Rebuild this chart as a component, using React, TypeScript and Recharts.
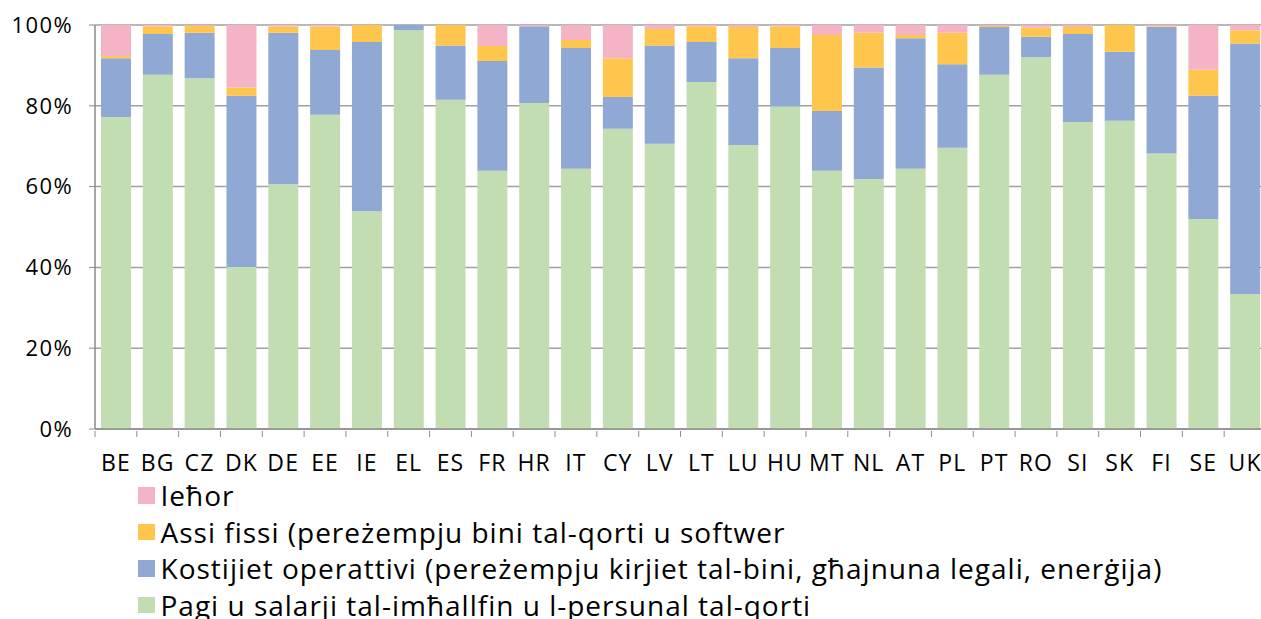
import React from "react";
import { BarChart, Bar, XAxis, YAxis, CartesianGrid } from "recharts";

const countries = ["BE","BG","CZ","DK","DE","EE","IE","EL","ES","FR","HR","IT","CY","LV","LT","LU","HU","MT","NL","AT","PL","PT","RO","SI","SK","FI","SE","UK"];
const salaries = [77.2,87.7,86.8,40.1,60.6,77.8,53.9,98.7,81.5,63.9,80.7,64.4,74.3,70.6,85.9,70.3,79.8,63.9,61.9,64.4,69.6,87.7,92.0,76.0,76.3,68.2,52.0,33.4];
const operating = [14.6,10.1,11.3,42.4,37.5,16.0,41.9,1.3,13.4,27.2,19.0,29.9,7.9,24.3,9.9,21.5,14.5,14.8,27.6,32.3,20.7,11.8,5.1,21.8,17.1,31.3,30.5,62.0];
const fixedAssets = [0.5,1.8,1.7,2.0,1.5,5.8,4.2,0,5.1,3.7,0,2.0,9.6,4.1,3.9,7.7,5.4,18.8,8.6,0.8,7.8,0.3,2.2,1.7,6.6,0.2,6.4,3.3];
const other = [7.7,0.4,0.2,15.5,0.4,0.4,0,0,0,5.2,0.3,3.7,8.2,1.0,0.3,0.5,0.3,2.5,1.9,2.5,1.9,0.2,0.7,0.5,0,0.3,11.1,1.3];
const yTicks = [0, 20, 40, 60, 80, 100];

const seriesNames = {
  other: "Ieħor",
  fixed: "Assi fissi (pereżempju bini tal-qorti u softwer",
  operating: "Kostijiet operattivi (pereżempju kirjiet tal-bini, għajnuna legali, enerġija)",
  salaries: "Pagi u salarji tal-imħallfin u l-persunal tal-qorti",
};
const colors = { other: "#F5B4C5", fixed: "#FFC64D", operating: "#8FA9D4", salaries: "#C3DDB3" };

const data = countries.map((c, i) => ({
  name: c,
  salaries: salaries[i],
  operating: operating[i],
  fixed: fixedAssets[i],
  other: other[i],
}));

const FONT = "'Open Sans', sans-serif";
const CHART_W = 1266;
const Y_W = 95;
const BAND = (CHART_W - Y_W) / countries.length;

const XTick = (props: any) => {
  const { x, y, payload } = props;
  return (
    <g>
      <line x1={x - BAND / 2} x2={x - BAND / 2} y1={y - 6} y2={y} stroke="#8c8c8c" strokeWidth={1} />
      <text x={x} y={y + 34} textAnchor="middle" fontFamily={FONT} fontSize={23} letterSpacing={1.1} fill="#000">
        {payload.value}
      </text>
    </g>
  );
};

const legendItems = [
  { key: "other", label: seriesNames.other },
  { key: "fixed", label: seriesNames.fixed },
  { key: "operating", label: seriesNames.operating },
  { key: "salaries", label: seriesNames.salaries },
];

export default function App() {
  return (
    <div style={{ position: "absolute", left: 0, top: 0, width: 1261, height: 619, overflow: "hidden", background: "#fff" }}>
      <BarChart
        width={CHART_W}
        height={619}
        data={data}
        margin={{ top: 25, right: 0, left: 0, bottom: 150 }}
        barSize={30}
      >
        <CartesianGrid vertical={false} stroke="#a0a0a0" strokeWidth={1.5} />
        <XAxis
          dataKey="name"
          height={40}
          tickLine={false}
          axisLine={{ stroke: "#8c8c8c", strokeWidth: 1.5 }}
          tick={<XTick />}
          interval={0}
        />
        <YAxis
          width={Y_W}
          domain={[0, 100]}
          ticks={yTicks}
          tickFormatter={(v: number) => `${v}%`}
          axisLine={{ stroke: "#8c8c8c", strokeWidth: 1.5 }}
          tickLine={{ stroke: "#8c8c8c" }}
          tickSize={6}
          tickMargin={16}
          tick={{ fontFamily: FONT, fontSize: 22, fill: "#000", letterSpacing: 1.4 }}
          allowDataOverflow
        />
        <Bar dataKey="salaries" stackId="a" fill={colors.salaries} isAnimationActive={false} />
        <Bar dataKey="operating" stackId="a" fill={colors.operating} isAnimationActive={false} />
        <Bar dataKey="fixed" stackId="a" fill={colors.fixed} isAnimationActive={false} />
        <Bar dataKey="other" stackId="a" fill={colors.other} isAnimationActive={false} />
      </BarChart>
      <div style={{ position: "absolute", left: 138, top: 477, fontFamily: FONT, fontSize: 28, letterSpacing: 1, color: "#000" }}>
        {legendItems.map((it) => (
          <div key={it.key} style={{ display: "flex", alignItems: "center", height: 36.5, whiteSpace: "nowrap", lineHeight: "36.5px" }}>
            <span style={{ display: "inline-block", width: 16.5, height: 16.5, background: (colors as any)[it.key], marginRight: 6, flex: "none" }} />
            <span>{it.label}</span>
          </div>
        ))}
      </div>
    </div>
  );
}
